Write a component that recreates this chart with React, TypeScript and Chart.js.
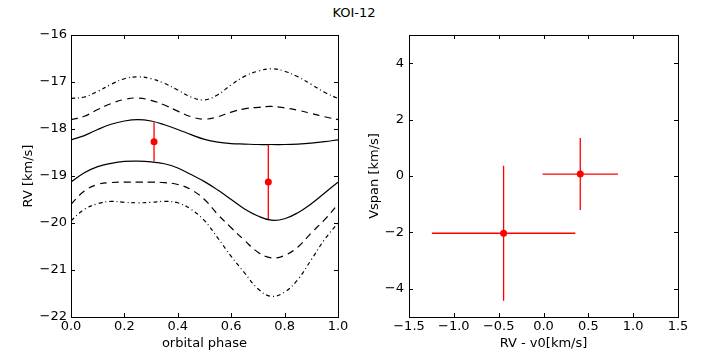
import React, { useEffect, useRef } from "react";
import { Chart, registerables } from "chart.js";

Chart.register(...registerables);

// ---------- data ----------
const phase = [0, 0.05, 0.1, 0.15, 0.2, 0.25, 0.3, 0.35, 0.4, 0.45, 0.5, 0.55, 0.6, 0.65, 0.7, 0.75, 0.8, 0.85, 0.9, 0.95, 1.0];

const upperSolid = [-18.23, -18.14, -18.01, -17.9, -17.83, -17.8, -17.83, -17.91, -18.01, -18.12, -18.22, -18.28, -18.31, -18.32, -18.33, -18.33, -18.33, -18.32, -18.3, -18.27, -18.23];
const lowerSolid = [-19.13, -18.93, -18.8, -18.73, -18.69, -18.685, -18.7, -18.74, -18.83, -18.97, -19.12, -19.3, -19.5, -19.7, -19.85, -19.94, -19.91, -19.78, -19.59, -19.36, -19.13];
const upperDashed = [-17.8, -17.73, -17.585, -17.46, -17.37, -17.34, -17.39, -17.49, -17.62, -17.74, -17.79, -17.74, -17.64, -17.57, -17.54, -17.52, -17.55, -17.6, -17.67, -17.74, -17.8];
const lowerDashed = [-19.6, -19.32, -19.18, -19.14, -19.13, -19.13, -19.13, -19.14, -19.18, -19.29, -19.5, -19.82, -20.1, -20.37, -20.62, -20.74, -20.69, -20.51, -20.21, -19.93, -19.6];
const upperDashDot = [-17.35, -17.32, -17.2, -17.05, -16.93, -16.89, -16.93, -17.03, -17.17, -17.32, -17.38, -17.27, -17.06, -16.88, -16.77, -16.72, -16.77, -16.89, -17.05, -17.22, -17.35];
const lowerDashDot = [-19.95, -19.71, -19.59, -19.54, -19.56, -19.57, -19.56, -19.54, -19.57, -19.71, -19.95, -20.32, -20.71, -21.06, -21.4, -21.56, -21.47, -21.2, -20.78, -20.35, -20.0];

const obsPhase = [0.311, 0.739];
const obsRV = [-18.27, -19.13];
const obsRVErr = [0.415, 0.805];

const rvMinusV0 = [0.41, -0.445];
const rvMinusV0Err = [0.42, 0.8];
const vspan = [0.07, -2.03];
const vspanErr = [1.28, 2.39];

const leftXTicks = [0, 0.2, 0.4, 0.6, 0.8, 1.0];
const leftYTicks = [-22, -21, -20, -19, -18, -17, -16];
const rightXTicks = [-1.5, -1.0, -0.5, 0.0, 0.5, 1.0, 1.5];
const rightYTicks = [-4, -2, 0, 2, 4];

const titleText = "KOI-12";
const leftXTitle = "orbital phase";
const leftYTitle = "RV [km/s]";
const rightXTitle = "RV - v0[km/s]";
const rightYTitle = "Vspan [km/s]";

// ---------- helpers ----------
const FONT = "'DejaVu Sans', sans-serif";
const minus = (s: string) => s.replace("-", "\u2212");
const setTicks = (vals: number[]) => (s: any) => {
  s.ticks = vals.map((v) => ({ value: v }));
};

const framePlugin = {
  id: "frameTicks",
  afterDraw(chart: any) {
    const { ctx, chartArea } = chart;
    const { left, right, top, bottom } = chartArea;
    ctx.save();
    ctx.strokeStyle = "#000";
    ctx.lineWidth = 1;
    const L = 4;
    const xs = chart.scales.x;
    const ys = chart.scales.y;
    ctx.beginPath();
    xs.ticks.forEach((t: any) => {
      const px = Math.round(xs.getPixelForValue(t.value)) + 0.5;
      ctx.moveTo(px, bottom);
      ctx.lineTo(px, bottom - L);
      ctx.moveTo(px, top);
      ctx.lineTo(px, top + L);
    });
    ys.ticks.forEach((t: any) => {
      const py = Math.round(ys.getPixelForValue(t.value)) + 0.5;
      ctx.moveTo(left, py);
      ctx.lineTo(left + L, py);
      ctx.moveTo(right, py);
      ctx.lineTo(right - L, py);
    });
    ctx.stroke();
    ctx.strokeRect(left + 0.5, top + 0.5, right - left, bottom - top);
    ctx.restore();
  },
};

function makeErrPlugin(xs: number[], ys: number[], xe: number[] | null, ye: number[] | null, dsIndex: number) {
  return {
    id: "errbars",
    beforeDatasetDraw(chart: any, args: any) {
      if (args.index !== dsIndex) return;
      const { ctx } = chart;
      const sx = chart.scales.x;
      const sy = chart.scales.y;
      ctx.save();
      ctx.strokeStyle = "#ff0000";
      ctx.lineWidth = 1.3;
      ctx.beginPath();
      for (let i = 0; i < xs.length; i++) {
        const px = sx.getPixelForValue(xs[i]);
        const py = sy.getPixelForValue(ys[i]);
        if (ye) {
          ctx.moveTo(px, sy.getPixelForValue(ys[i] + ye[i]));
          ctx.lineTo(px, sy.getPixelForValue(ys[i] - ye[i]));
        }
        if (xe) {
          ctx.moveTo(sx.getPixelForValue(xs[i] - xe[i]), py);
          ctx.lineTo(sx.getPixelForValue(xs[i] + xe[i]), py);
        }
      }
      ctx.stroke();
      ctx.restore();
    },
  };
}

function lineDs(values: number[], dash: number[]) {
  return {
    type: "line" as const,
    data: phase.map((p, i) => ({ x: p, y: values[i] })),
    borderColor: "#000",
    borderWidth: 1.2,
    borderDash: dash,
    pointRadius: 0,
    tension: 0.4,
    fill: false,
  };
}

function axisFont() {
  return { family: FONT, size: 13 };
}

function LeftChart() {
  const ref = useRef<HTMLCanvasElement>(null);
  useEffect(() => {
    const dashed = [7, 5];
    const dashDot = [4, 3, 1, 3];
    const chart = new Chart(ref.current!, {
      type: "line",
      data: {
        datasets: [
          lineDs(upperSolid, []),
          lineDs(lowerSolid, []),
          lineDs(upperDashed, dashed),
          lineDs(lowerDashed, dashed),
          lineDs(upperDashDot, dashDot),
          lineDs(lowerDashDot, dashDot),
          {
            type: "scatter" as const,
            data: obsPhase.map((p, i) => ({ x: p, y: obsRV[i] })),
            backgroundColor: "#ff0000",
            borderColor: "#ff0000",
            borderWidth: 0,
            pointRadius: 3.5,
          } as any,
        ],
      },
      options: {
        animation: false,
        responsive: false,
        devicePixelRatio: 1,
        layout: { padding: { left: 0, right: 15, top: 35, bottom: 0 } },
        plugins: { legend: { display: false }, tooltip: { enabled: false } },
        scales: {
          x: {
            type: "linear",
            min: 0,
            max: 1,
            afterBuildTicks: setTicks(leftXTicks),
            afterFit: (s: any) => { s.height = 36; },
            grid: { display: false, drawTicks: false },
            border: { display: false },
            ticks: {
              padding: 2,
              color: "#000",
              font: axisFont(),
              maxRotation: 0,
              autoSkip: false,
              callback: (v: any) => minus(Number(v).toFixed(1)),
            },
            title: { display: true, text: leftXTitle, color: "#000", font: axisFont(), padding: { top: 0, bottom: 2 } },
          },
          y: {
            type: "linear",
            min: -22,
            max: -16,
            afterBuildTicks: setTicks(leftYTicks),
            afterFit: (s: any) => { s.width = 71; },
            grid: { display: false, drawTicks: false },
            border: { display: false },
            ticks: {
              padding: 4,
              color: "#000",
              font: axisFont(),
              autoSkip: false,
              callback: (v: any) => minus(String(v)),
            },
            title: { display: true, text: leftYTitle, color: "#000", font: axisFont(), padding: { top: 21, bottom: 0 } },
          },
        },
      } as any,
      plugins: [framePlugin, makeErrPlugin(obsPhase, obsRV, null, obsRVErr, 6)],
    });
    return () => chart.destroy();
  }, []);
  return <canvas ref={ref} width={353} height={353} style={{ position: "absolute", left: 0, top: 0, width: 353, height: 353 }} />;
}

function RightChart() {
  const ref = useRef<HTMLCanvasElement>(null);
  useEffect(() => {
    const chart = new Chart(ref.current!, {
      type: "scatter",
      data: {
        datasets: [
          {
            data: rvMinusV0.map((v, i) => ({ x: v, y: vspan[i] })),
            backgroundColor: "#ff0000",
            borderColor: "#ff0000",
            borderWidth: 0,
            pointRadius: 3.5,
          },
        ],
      },
      options: {
        animation: false,
        responsive: false,
        devicePixelRatio: 1,
        layout: { padding: { left: 0, right: 28, top: 35, bottom: 0 } },
        plugins: { legend: { display: false }, tooltip: { enabled: false } },
        scales: {
          x: {
            type: "linear",
            min: -1.5,
            max: 1.5,
            afterBuildTicks: setTicks(rightXTicks),
            afterFit: (s: any) => { s.height = 36; },
            grid: { display: false, drawTicks: false },
            border: { display: false },
            ticks: {
              padding: 2,
              color: "#000",
              font: axisFont(),
              maxRotation: 0,
              autoSkip: false,
              callback: (v: any) => minus(Number(v).toFixed(1)),
            },
            title: { display: true, text: rightXTitle, color: "#000", font: axisFont(), padding: { top: 0, bottom: 2 } },
          },
          y: {
            type: "linear",
            min: -5,
            max: 5,
            afterBuildTicks: setTicks(rightYTicks),
            afterFit: (s: any) => { s.width = 56; },
            grid: { display: false, drawTicks: false },
            border: { display: false },
            ticks: {
              padding: 5,
              color: "#000",
              font: axisFont(),
              autoSkip: false,
              callback: (v: any) => minus(String(v)),
            },
            title: { display: true, text: rightYTitle, color: "#000", font: axisFont(), padding: { top: 14, bottom: 0 } },
          },
        },
      } as any,
      plugins: [framePlugin, makeErrPlugin(rvMinusV0, vspan, rvMinusV0Err, vspanErr, 0)],
    });
    return () => chart.destroy();
  }, []);
  return <canvas ref={ref} width={353} height={353} style={{ position: "absolute", left: 353, top: 0, width: 353, height: 353 }} />;
}

export default function App() {
  return (
    <div style={{ position: "fixed", left: 0, top: 0, width: 706, height: 353, background: "#fff", overflow: "hidden" }}>
      <div
        style={{
          position: "absolute",
          left: 0,
          top: 5,
          width: 708,
          textAlign: "center",
          fontFamily: FONT,
          fontSize: 13,
          lineHeight: "15px",
          color: "#000",
        }}
      >
        {titleText}
      </div>
      <LeftChart />
      <RightChart />
    </div>
  );
}
